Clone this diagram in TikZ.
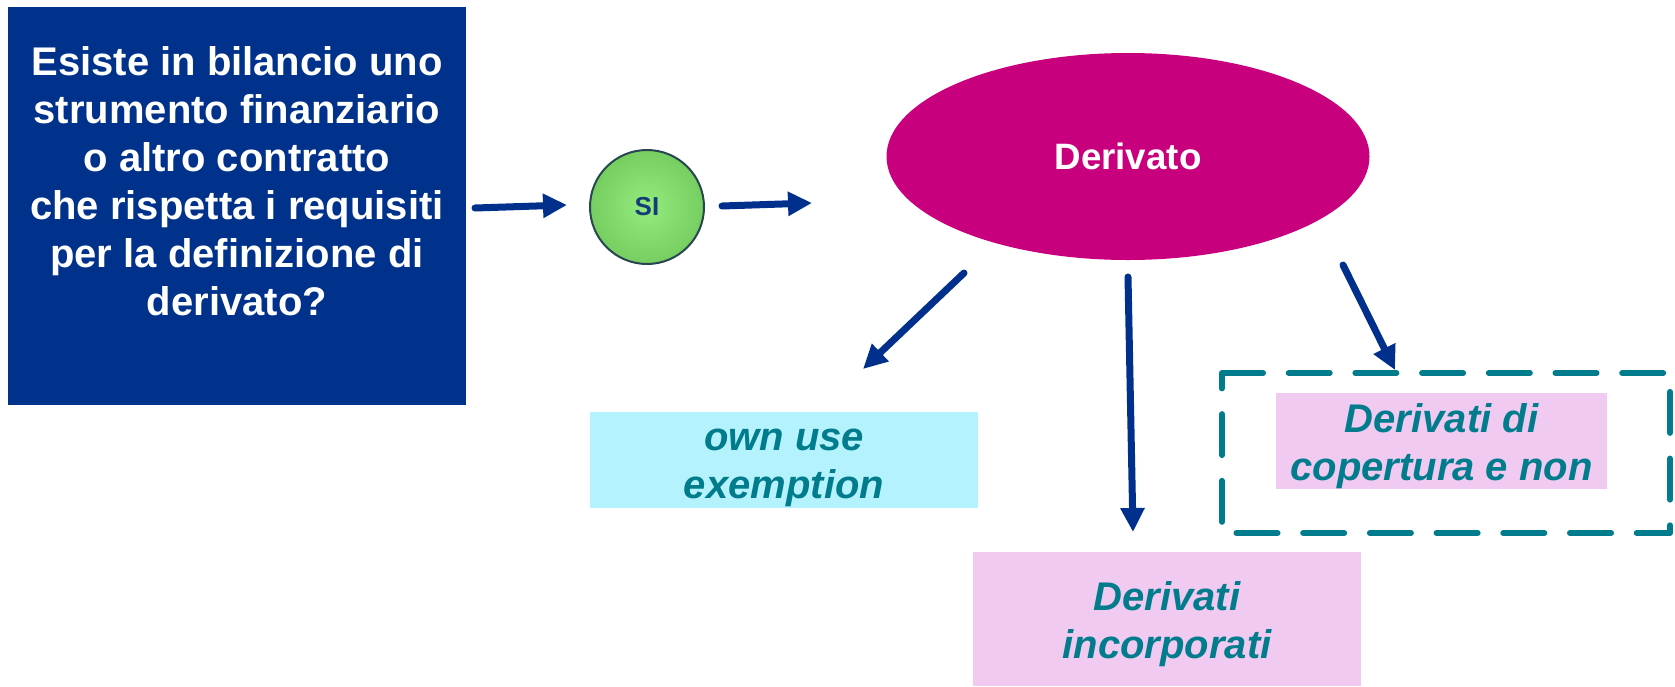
\documentclass[tikz,border=0pt]{standalone}
\usepackage{fontspec}
\setmainfont{Liberation Sans}
\usetikzlibrary{arrows.meta,shapes.geometric}
\definecolor{qblue}{RGB}{0,50,140}
\definecolor{arrblue}{RGB}{0,48,140}
\definecolor{magen}{RGB}{200,0,125}
\definecolor{cyanfill}{RGB}{180,243,253}
\definecolor{pinkfill}{RGB}{240,202,240}
\definecolor{tealc}{RGB}{0,124,140}
\definecolor{sitext}{RGB}{20,60,120}
\definecolor{siin}{RGB}{148,236,126}
\definecolor{siout}{RGB}{118,206,96}
\definecolor{siedge}{RGB}{40,70,80}
\newcommand\lstrut{\rule[-9pt]{0pt}{48pt}}
\tikzset{
  qbox/.style={rectangle, fill=qblue, inner sep=0pt, minimum width=458pt, minimum height=398pt,
    text=white, align=center, font=\fontsize{40}{48}\selectfont\bfseries},
  siball/.style={circle, inner color=siin, outer color=siout, draw=siedge, line width=2pt,
    minimum size=114pt, inner sep=0pt, text=sitext,
    font=\fontsize{26}{30}\selectfont\bfseries},
  derbox/.style={ellipse, fill=magen, minimum width=483pt, minimum height=207pt, inner sep=0pt,
    text=white, font=\fontsize{36.7}{44}\selectfont\bfseries},
  resbox/.style={rectangle, inner sep=0pt, minimum width=388pt, text=tealc, align=center,
    font=\fontsize{40}{48}\selectfont\bfseries\itshape},
  arr/.style={draw=arrblue, line width=7pt, line cap=round,
    -{Triangle[length=24pt,width=23pt]}},
  dashbox/.style={draw=tealc, line width=6pt, line cap=round, line join=round,
    dash pattern=on 41pt off 25.7pt}
}
\begin{document}
\begin{tikzpicture}[x=1pt,y=-1pt]
\useasboundingbox (0,0) rectangle (1675,686);
\fill[white] (0,0) rectangle (1675,686);
% question box
\node[qbox] (q) at (237,206) {\rule{0pt}{35pt}Esiste in bilancio uno\\strumento finanziario\\o altro contratto\\che rispetta i requisiti\\per la definizione di\\derivato?\rule[-57pt]{0pt}{57pt}};
% SI ball
\node[siball] (si) at (647,207) {SI};
% Derivato ellipse
\node[derbox] (der) at (1128,156.5) {Derivato};
% result boxes
\node[resbox, fill=cyanfill, minimum height=95pt] (own) at (784,459.5) {\lstrut own use\\\lstrut exemption};
\node[resbox, fill=pinkfill, minimum height=134pt] (inc) at (1167,619) {\lstrut Derivati\\\lstrut incorporati};
\node[resbox, fill=pinkfill, minimum width=331pt, minimum height=94pt] (cop) at (1441.5,441) {\lstrut Derivati di\\\lstrut copertura e non};
% dashed frame
\coordinate (dtl) at (1222,373);
\coordinate (dtr) at (1670,373);
\coordinate (dbr) at (1670,533);
\coordinate (dbl) at (1222,533);
\draw[dashbox] (dtl) -- (dtr) -- (dbr) -- (dbl) -- cycle;
% arrow ends
\coordinate (a1s) at (475,208);
\coordinate (a1e) at (567,205);
\coordinate (a2s) at (722,206);
\coordinate (a2e) at (812,203);
\coordinate (a3s) at (964,273);
\coordinate (a3e) at (863,369);
\coordinate (a4s) at (1128,277);
\coordinate (a4e) at (1133,532);
\coordinate (a5s) at (1343,265);
\coordinate (a5e) at (1395,370);
\draw[arr] (a1s) -- (a1e);
\draw[arr] (a2s) -- (a2e);
\draw[arr] (a3s) -- (a3e);
\draw[arr] (a4s) -- (a4e);
\draw[arr] (a5s) -- (a5e);
\end{tikzpicture}
\end{document}
